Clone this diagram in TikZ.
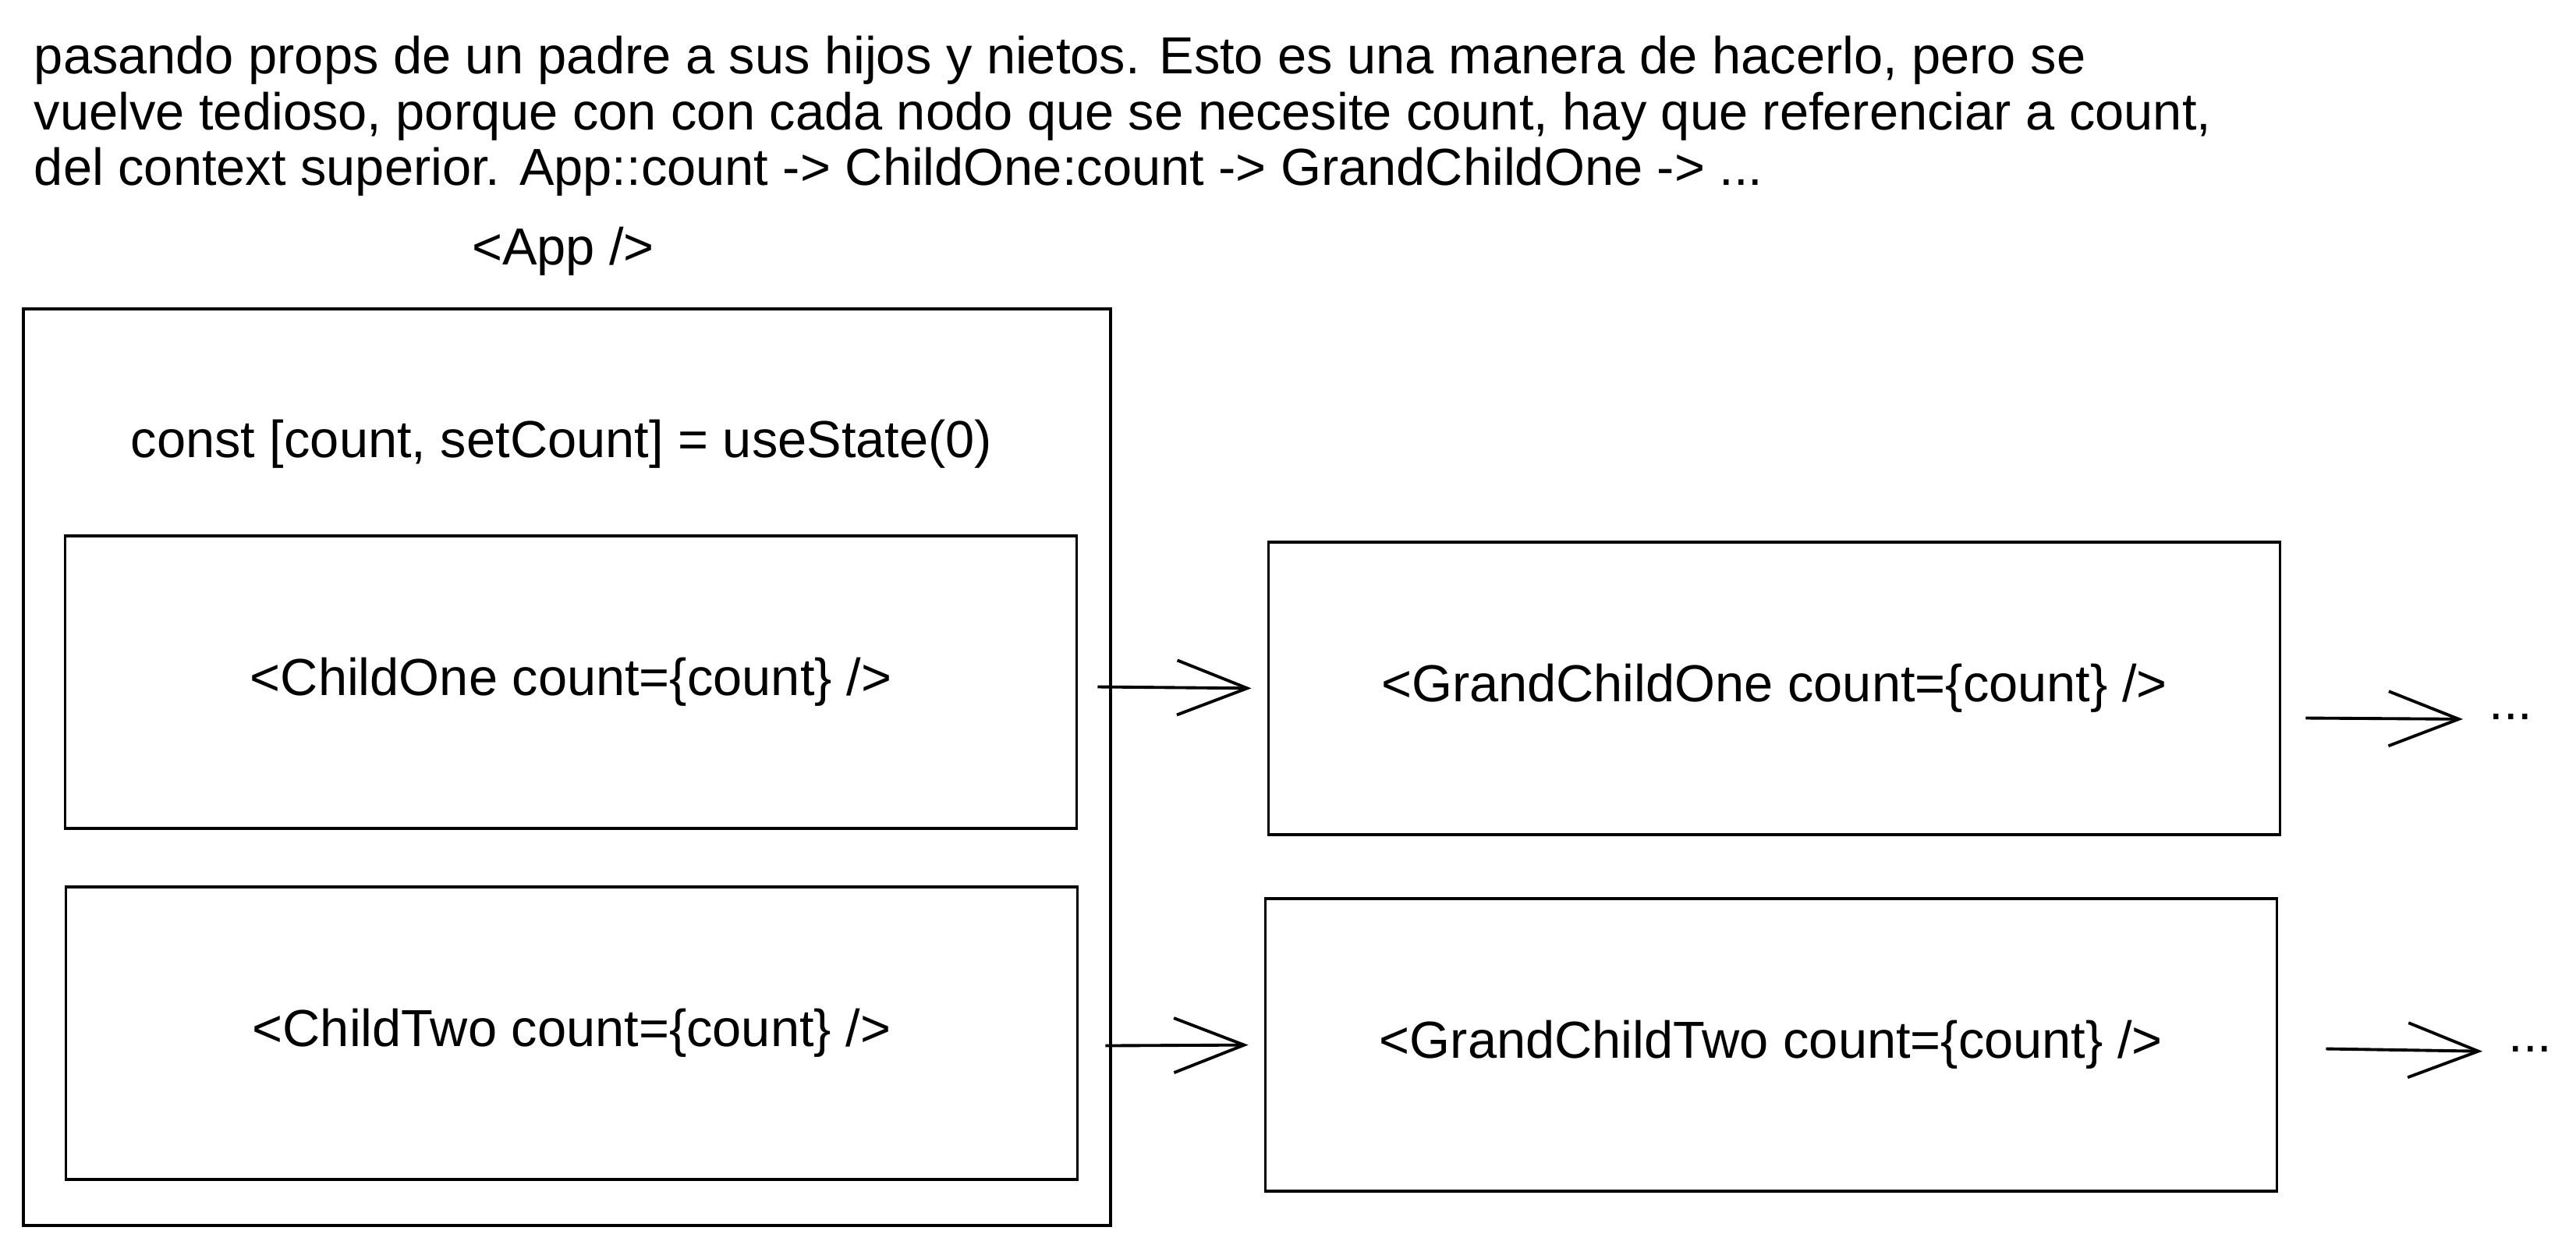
\documentclass[tikz,border=0pt]{standalone}
\usepackage{fontspec}
\setmainfont{Liberation Sans}
\usetikzlibrary{arrows.meta}

\begin{document}
\begin{tikzpicture}[x=1cm,y=1cm,line width=1.1pt,
  font=\fontsize{19}{20.4}\selectfont,
  box/.style={draw, minimum width=12.97cm, minimum height=3.75cm},
  flow/.style={-{Straight Barb[length=0.9cm,width=0.7cm]}, shorten >=0.2cm}]

\useasboundingbox (0,0) rectangle (33.03,-16.04);

% Note at the top.
\node[anchor=north west, align=left, inner sep=0pt] (intro) at (0.42,-0.44)
  {pasando props de un padre a sus hijos y nietos. Esto es una manera de hacerlo, pero se\\
   vuelve tedioso, porque con con cada nodo que se necesite count, hay que referenciar a count,\\
   del context superior. App::count -> ChildOne:count -> GrandChildOne -> ...};

% App component, holding the state.
\node (apptitle) at (7.22,-3.22) {<App />};
\node[draw, minimum width=13.94cm, minimum height=11.75cm] (app) at (7.27,-9.835) {};
\node (state) at (7.20,-5.69) {const [count, setCount] = useState(0)};

% Children inside App, grandchildren to the right.
\node[box] (childone) at (7.32,-8.745) {<ChildOne count=\{count\} />};
\node[box] (childtwo) at (7.33,-13.245) {<ChildTwo count=\{count\} />};
\node[box] (grandone) at (22.75,-8.825) {<GrandChildOne count=\{count\} />};
\node[box] (grandtwo) at (22.71,-13.395) {<GrandChildTwo count=\{count\} />};

\node[anchor=base west] (moreone) at (31.78,-9.22) {...};
\node[anchor=base west] (moretwo) at (32.03,-13.48) {...};

% count handed down the tree.
\draw[flow] ([xshift=0.25cm,yshift=-0.06cm]childone.east) -- (grandone.west);
\draw[flow] ([xshift=0.34cm,yshift=-0.16cm]childtwo.east) -- (grandtwo.west);
\draw[flow] ([xshift=0.31cm,yshift=-0.38cm]grandone.east) -- (moreone.base west);
\draw[flow] ([xshift=0.61cm,yshift=-0.05cm]grandtwo.east) -- (moretwo.base west);

\end{tikzpicture}
\end{document}
